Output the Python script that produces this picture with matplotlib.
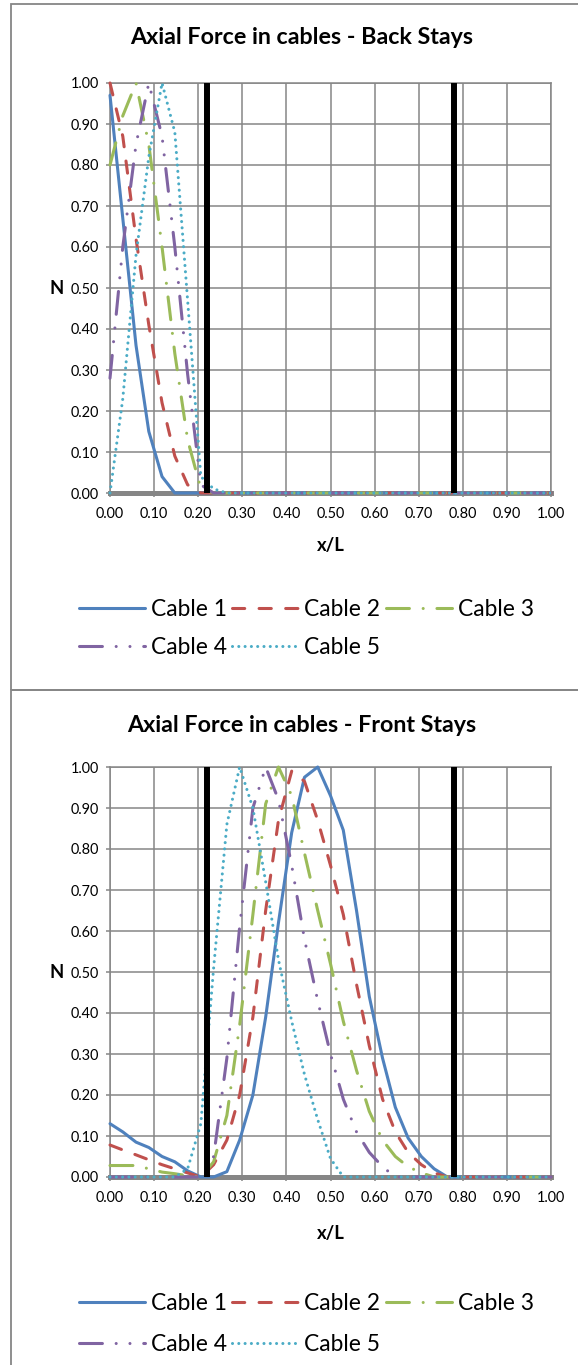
import matplotlib
matplotlib.use('Agg')
from matplotlib import pyplot as plt
from matplotlib.patches import Rectangle

# posições ao longo do tabuleiro (x/L)
x_over_L = [0.000, 0.029, 0.059, 0.088, 0.118, 0.147, 0.176, 0.206, 0.235, 0.265,
            0.294, 0.324, 0.353, 0.382, 0.412, 0.441, 0.471, 0.500, 0.529, 0.559,
            0.588, 0.618, 0.647, 0.676, 0.706, 0.735, 0.765, 0.794, 0.824, 0.853,
            0.882, 0.912, 0.941, 0.971, 1.000]
towers = [0.22, 0.78]
tick_values = [0.0, 0.1, 0.2, 0.3, 0.4, 0.5, 0.6, 0.7, 0.8, 0.9, 1.0]
cable_names = ['Cable 1', 'Cable 2', 'Cable 3', 'Cable 4', 'Cable 5']

# Back stays
back_c1 = [0.97, 0.67, 0.36, 0.15, 0.04, 0, 0, 0, 0, 0, 0, 0, 0, 0, 0, 0, 0, 0,
           0, 0, 0, 0, 0, 0, 0, 0, 0, 0, 0, 0, 0, 0, 0, 0, 0]
back_c2 = [1.00, 0.87, 0.62, 0.41, 0.22, 0.09, 0.02, 0, 0, 0, 0, 0, 0, 0, 0, 0, 0, 0,
           0, 0, 0, 0, 0, 0, 0, 0, 0, 0, 0, 0, 0, 0, 0, 0, 0]
back_c3 = [0.80, 0.92, 1.00, 0.85, 0.60, 0.34, 0.13, 0.01, 0, 0, 0, 0, 0, 0, 0, 0, 0, 0,
           0, 0, 0, 0, 0, 0, 0, 0, 0, 0, 0, 0, 0, 0, 0, 0, 0]
back_c4 = [0.28, 0.60, 0.85, 1.00, 0.87, 0.60, 0.29, 0.02, 0, 0, 0, 0, 0, 0, 0, 0, 0, 0,
           0, 0, 0, 0, 0, 0, 0, 0, 0, 0, 0, 0, 0, 0, 0, 0, 0]
back_c5 = [0.00, 0.23, 0.58, 0.82, 1.00, 0.88, 0.47, 0.04, 0.01, 0, 0, 0, 0, 0, 0, 0, 0, 0,
           0, 0, 0, 0, 0, 0, 0, 0, 0, 0, 0, 0, 0, 0, 0, 0, 0]

# Front stays
front_c1 = [0.13, 0.11, 0.085, 0.072, 0.05, 0.037, 0.015, 0, 0, 0.013, 0.09, 0.20,
            0.39, 0.62, 0.84, 0.975, 1.00, 0.93, 0.846, 0.65, 0.44, 0.29, 0.17, 0.095,
            0.05, 0.02, 0, 0, 0, 0, 0, 0, 0, 0, 0]
front_c2 = [0.078, 0.066, 0.054, 0.042, 0.03, 0.02, 0.01, 0, 0.03, 0.09, 0.20, 0.39,
            0.65, 0.87, 0.99, 0.965, 0.87, 0.76, 0.64, 0.47, 0.32, 0.19, 0.11, 0.06,
            0.03, 0.01, 0, 0, 0, 0, 0, 0, 0, 0, 0]
front_c3 = [0.028, 0.028, 0.028, 0.02, 0.012, 0.008, 0.003, 0, 0.037, 0.15, 0.37, 0.64,
            0.91, 1.00, 0.93, 0.79, 0.65, 0.52, 0.38, 0.26, 0.16, 0.09, 0.05, 0.025,
            0.01, 0, 0, 0, 0, 0, 0, 0, 0, 0, 0]
front_c4 = [0, 0, 0, 0, 0, 0, 0, 0, 0.05, 0.29, 0.61, 0.90, 1.00, 0.92, 0.76, 0.58,
            0.43, 0.30, 0.19, 0.11, 0.06, 0.025, 0, 0, 0, 0, 0, 0, 0, 0, 0, 0, 0, 0, 0]
front_c5 = [0, 0, 0, 0, 0, 0, 0.02, 0.13, 0.51, 0.86, 1.00, 0.90, 0.72, 0.53, 0.38,
            0.25, 0.14, 0.045, 0, 0, 0, 0, 0, 0, 0, 0, 0, 0, 0, 0, 0, 0, 0, 0, 0]

colors = ['#4F81BD', '#C0504D', '#9BBB59', '#8064A2', '#4BACC6']
# padrões de traço estilo Excel (em unidades de espessura da linha)
dashes = [None, (4, 4.7), (7.5, 4.5, 0.01, 4.5), (7.5, 4.5, 0.01, 4.5, 0.01, 4.5), (0.01, 2.05)]
grid_gray = '#868686'
W, H = 578, 1365

plt.rcParams['font.family'] = ['Lato', 'DejaVu Sans']

fig = plt.figure(figsize=(W / 100, H / 100), dpi=100)
renderer = fig.canvas.get_renderer()


def fx(px):
    return px / W


def fy(py):
    return 1 - py / H


def fit_size(text, width_px, weight='normal'):
    # tamanho de fonte que dá a largura medida na referência
    t = fig.text(0, 0, text, fontsize=10, fontweight=weight)
    w = t.get_window_extent(renderer).width
    t.remove()
    return 10 * width_px / w


title_size = fit_size('Axial Force in cables - Back Stays', 344, 'bold')
tick_size = fit_size('0.00', 28.5)
label_size = fit_size('x/L', 28, 'bold')
legend_size = fit_size('Cable 1', 76)
legend_px = legend_size * 100 / 72


def draw_panel(top_px, series, title, title_y, xlabel_y, row1_y, row2_y):
    ax = fig.add_axes([fx(110), fy(top_px + 410), fx(551) - fx(110), 410 / H])
    ax.set_xlim(0, 1)
    ax.set_ylim(0, 1)
    ax.set_xticks(tick_values)
    ax.set_yticks(tick_values)
    ax.set_xticklabels([f'{v:.2f}' for v in tick_values])
    ax.set_yticklabels([f'{v:.2f}' for v in tick_values])
    ax.tick_params(length=3, width=1.1, color=grid_gray, labelsize=tick_size)
    ax.tick_params(axis='x', pad=7)
    ax.tick_params(axis='y', pad=5)
    ax.grid(True, color=grid_gray, lw=1.1, zorder=0.5)
    ax.set_axisbelow(True)
    for side in ['left', 'top', 'right']:
        ax.spines[side].set_color(grid_gray)
        ax.spines[side].set_linewidth(1.1)
    ax.spines['bottom'].set_visible(False)
    ax.axhline(0, color=grid_gray, lw=3.6, zorder=2, clip_on=False)

    handles = []
    for i, values in enumerate(series):
        line, = ax.plot(x_over_L, values, color=colors[i], lw=2.2, zorder=3 + i,
                        clip_on=False, solid_capstyle='round', dash_capstyle='round',
                        label=cable_names[i])
        if dashes[i] is not None:
            line.set_dashes(dashes[i])
        handles.append(line)

    for t in towers:
        ax.axvline(t, color='black', lw=4.3, zorder=10)

    fig.text(fx(302), fy(title_y), title, ha='center', va='center',
             fontsize=title_size, fontweight='bold')
    fig.text(fx(331), fy(xlabel_y), 'x/L', ha='center', va='center',
             fontsize=label_size, fontweight='bold')
    fig.text(fx(57), fy(top_px + 205), 'N', ha='center', va='center',
             fontsize=label_size, fontweight='bold')

    # ordem para preencher por linhas (3 colunas)
    order = [0, 3, 1, 4, 2]
    row_h = legend_px * 1.2
    spacing = (row2_y - row1_y - row_h) / legend_px
    ax.legend([handles[k] for k in order], [cable_names[k] for k in order], ncol=3,
              loc='center left', bbox_to_anchor=(fx(79), fy((row1_y + row2_y) / 2)),
              bbox_transform=fig.transFigure, frameon=False, fontsize=legend_size,
              handlelength=66 / legend_px, handletextpad=0.25, columnspacing=0.25,
              labelspacing=spacing, borderpad=0, borderaxespad=0)
    return ax


draw_panel(83, [back_c1, back_c2, back_c3, back_c4, back_c5],
           'Axial Force in cables - Back Stays', 38, 546, 606, 651)
draw_panel(767, [front_c1, front_c2, front_c3, front_c4, front_c5],
           'Axial Force in cables - Front Stays', 725, 1233, 1300, 1348)

# molduras dos dois gráficos
fig.add_artist(Rectangle((fx(11), fy(689.6)), 1.0, (689.6 - 3.7) / H, transform=fig.transFigure,
                         fill=False, edgecolor=grid_gray, lw=1.3))
fig.add_artist(Rectangle((fx(11), -0.01), 1.0, fy(689.6) + 0.01, transform=fig.transFigure,
                         fill=False, edgecolor=grid_gray, lw=1.3))

fig.savefig('out.png', dpi=100)
